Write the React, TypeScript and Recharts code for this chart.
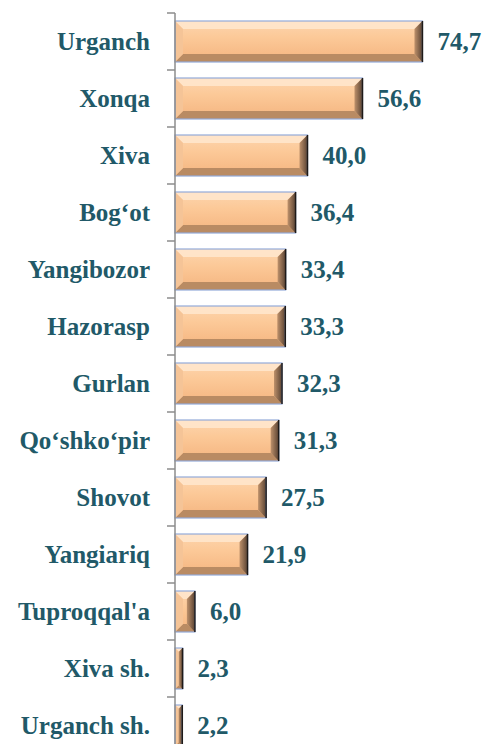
import { BarChart, Bar, XAxis, YAxis, LabelList } from 'recharts';

const districts = [
  'Urganch',
  'Xonqa',
  'Xiva',
  'Bog‘ot',
  'Yangibozor',
  'Hazorasp',
  'Gurlan',
  'Qo‘shko‘pir',
  'Shovot',
  'Yangiariq',
  "Tuproqqal'a",
  'Xiva sh.',
  'Urganch sh.'
];
const values = [74.7, 56.6, 40.0, 36.4, 33.4, 33.3, 32.3, 31.3, 27.5, 21.9, 6.0, 2.3, 2.2];

const data = districts.map((name, i) => ({ name, value: values[i] }));

const W = 486;
const H = 754;
const TOP = 13;
const AXIS_W = 175;
const TEXT = '#215968';
const FONT = 'Liberation Serif';
const band = (H - TOP) / districts.length;

// bevelled peach bar like the office-chart style
function BevelBar(props: any) {
  const { x, y, width, height } = props;
  if (!width || width <= 0) return null;
  const b = Math.min(8, width / 2, height / 2);
  const r = x + width;
  const bt = y + height;
  return (
    <g>
      <rect x={x} y={y} width={width} height={height} fill="url(#barFill)" />
      <polygon
        points={`${x},${y} ${r},${y} ${r - b},${y + b} ${x + b},${y + b}`}
        fill="#FFE6CC"
        opacity={0.9}
      />
      <polygon
        points={`${x},${bt} ${r},${bt} ${r - b},${bt - b} ${x + b},${bt - b}`}
        fill="#B98B63"
      />
      <polygon
        points={`${x},${y} ${x + b},${y + b} ${x + b},${bt - b} ${x},${bt}`}
        fill="#F5C497"
      />
      <polygon
        points={`${r},${y} ${r - b},${y + b} ${r - b},${bt - b} ${r},${bt}`}
        fill="url(#rightEdge)"
      />
      <rect
        x={x}
        y={y}
        width={width}
        height={height}
        fill="none"
        stroke="#93ABD9"
        strokeWidth={1.2}
      />
      <line x1={r} y1={y} x2={r} y2={bt} stroke="#1E1A18" strokeWidth={1.5} />
    </g>
  );
}

function CategoryTick(props: any) {
  const { x, y, payload } = props;
  return (
    <g>
      <line
        x1={AXIS_W - 8}
        x2={AXIS_W}
        y1={y - band / 2}
        y2={y - band / 2}
        stroke="#8C8C8C"
        strokeWidth={1.5}
      />
      <text
        x={x}
        y={y}
        dy="0.35em"
        textAnchor="end"
        fill={TEXT}
        style={{ fontFamily: FONT, fontWeight: 700, fontSize: 25 }}
      >
        {payload.value}
      </text>
    </g>
  );
}

export default function App() {
  return (
    <div
      style={{
        position: 'absolute',
        left: 0,
        top: 0,
        width: W,
        height: 744,
        overflow: 'hidden',
        background: '#fff'
      }}
    >
      <BarChart
        width={W}
        height={H}
        data={data}
        layout="vertical"
        margin={{ top: TOP, right: 46, left: 0, bottom: 0 }}
        barCategoryGap={0}
      >
        <defs>
          <linearGradient id="barFill" x1="0" y1="0" x2="0" y2="1">
            <stop offset="0%" stopColor="#FDD5AE" />
            <stop offset="40%" stopColor="#FCC998" />
            <stop offset="100%" stopColor="#F4B47F" />
          </linearGradient>
          <linearGradient id="rightEdge" x1="0" y1="0" x2="1" y2="0">
            <stop offset="0%" stopColor="#BE916B" />
            <stop offset="100%" stopColor="#5A4333" />
          </linearGradient>
        </defs>
        <XAxis type="number" domain={[0, 80]} hide />
        <YAxis
          dataKey="name"
          type="category"
          width={AXIS_W}
          axisLine={{ stroke: '#8C8C8C', strokeWidth: 1.5 }}
          tickLine={false}
          tickSize={8}
          tickMargin={17}
          interval={0}
          tick={<CategoryTick />}
        />
        <Bar
          dataKey="value"
          barSize={41}
          shape={<BevelBar />}
          isAnimationActive={false}
        >
          <LabelList
            dataKey="value"
            position="right"
            offset={15}
            formatter={(v: any) => Number(v).toFixed(1).replace('.', ',')}
            style={{
              fontFamily: FONT,
              fontWeight: 700,
              fontSize: 25,
              fill: TEXT
            }}
          />
        </Bar>
      </BarChart>
    </div>
  );
}
